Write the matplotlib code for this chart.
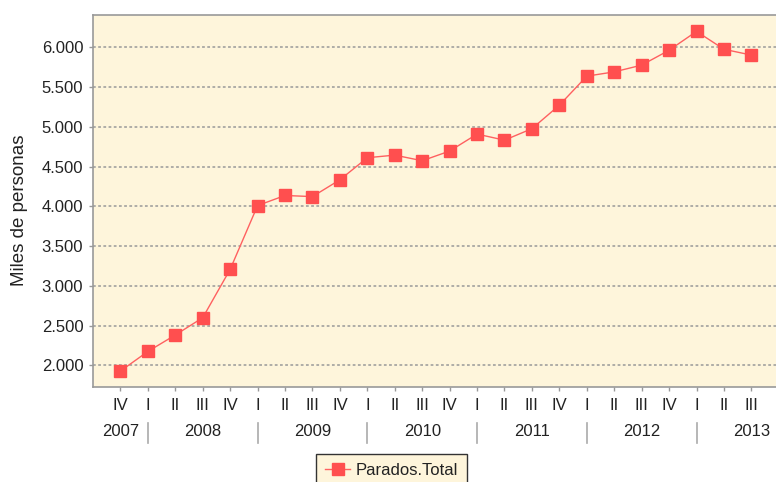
import matplotlib
matplotlib.use("Agg")
import matplotlib.pyplot as plt
from matplotlib.lines import Line2D
import matplotlib.transforms as mtransforms

quarters = ["IV",
            "I", "II", "III", "IV",
            "I", "II", "III", "IV",
            "I", "II", "III", "IV",
            "I", "II", "III", "IV",
            "I", "II", "III", "IV",
            "I", "II", "III"]
years = ["2007", "2008", "2009", "2010", "2011", "2012", "2013"]
year_counts = [1, 4, 4, 4, 4, 4, 3]
parados = [1927.6,
           2174.2, 2381.5, 2598.8, 3207.9,
           4010.7, 4137.5, 4123.3, 4335.0,
           4612.7, 4645.5, 4574.7, 4696.6,
           4910.2, 4833.7, 4978.3, 5273.6,
           5639.5, 5693.1, 5778.1, 5965.4,
           6202.7, 5977.5, 5904.7]
yticks = [2000, 2500, 3000, 3500, 4000, 4500, 5000, 5500, 6000]
ytick_labels = ["2.000", "2.500", "3.000", "3.500", "4.000", "4.500", "5.000", "5.500", "6.000"]
series_name = "Parados.Total"
ylabel = "Miles de personas"

plt.rcParams['font.family'] = ['Liberation Sans', 'DejaVu Sans']
txt = "#222222"
fs = 12

W, H = 776, 482
fig = plt.figure(figsize=(W / 100, H / 100), dpi=100)
fig.patch.set_facecolor("white")
ax_l, ax_r, ax_t, ax_b = 93, 778, 15, 387
ax = fig.add_axes([ax_l / W, 1 - ax_b / H, (ax_r - ax_l) / W, (ax_b - ax_t) / H])
ax.set_facecolor("#FEF5DB")

x = list(range(len(parados)))
line, = ax.plot(x, parados, color="#FF6060", lw=1.0, marker="s", markersize=8,
                markerfacecolor="#FF4F4F", markeredgecolor="#FF4F4F", label=series_name,
                zorder=3)

ax.set_xlim(-1, len(parados) - 0.03)
ax.set_ylim(1727, 6409)
ax.set_yticks(yticks)
ax.set_yticklabels(ytick_labels, fontsize=fs, color=txt)
ax.set_xticks(x)
ax.set_xticklabels(quarters, fontsize=fs, color=txt)
ax.tick_params(axis="both", length=3, color="#999999", width=1)
ax.tick_params(axis="x", pad=5)
ax.tick_params(axis="y", pad=4)
for yv in yticks:
    ax.axhline(yv, color="#999999", lw=1.1, ls=(0, (1.8, 1.6)), zorder=1)

for s in ["left", "top", "bottom"]:
    ax.spines[s].set_color("#999999")
    ax.spines[s].set_linewidth(1.2)
ax.spines["right"].set_visible(False)

# year labels and separators
trans = mtransforms.blended_transform_factory(ax.transData, ax.transAxes)
h = ax_b - ax_t
y_lab = -(432 - ax_b) / h
y_s0 = -(423 - ax_b) / h
y_s1 = -(443 - ax_b) / h
start = 0
for i, (yr, n) in enumerate(zip(years, year_counts)):
    if i == 0:
        left = start - n
        right = start + n
    else:
        left = start
        right = start + 4
    center = (left + right) / 2
    ax.text(center, y_lab, yr, transform=trans, ha="center", va="center",
            fontsize=fs, color=txt, clip_on=False)
    if i > 0:
        ax.add_line(Line2D([start, start], [y_s0, y_s1], transform=trans,
                           color="#AAAAAA", lw=1.2, clip_on=False))
    start += n

fig.text(20 / W, 1 - 210 / H, ylabel, rotation=90, ha="center", va="center",
         fontsize=13.5, color=txt)

leg = fig.legend(handles=[line], loc="upper left",
                 bbox_to_anchor=(316 / W, 1 - 454 / H), fontsize=fs,
                 frameon=True, fancybox=False, edgecolor="#333333",
                 facecolor="#FEF5DB", framealpha=1, handlelength=1.5,
                 handletextpad=0.3, borderpad=0.55, borderaxespad=0)
leg.get_frame().set_linewidth(1.0)
for t in leg.get_texts():
    t.set_color(txt)

fig.savefig("out.png", dpi=100)
